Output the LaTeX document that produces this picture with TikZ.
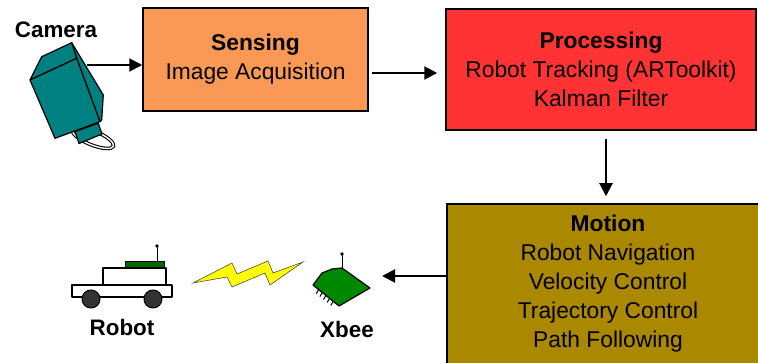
\documentclass[tikz,border=0pt]{standalone}
\usepackage{fontspec}
\setmainfont{Liberation Sans}
\usetikzlibrary{arrows.meta,calc}
\definecolor{sensefill}{RGB}{250,153,85}
\definecolor{procfill}{RGB}{255,51,51}
\definecolor{motionfill}{RGB}{170,136,0}
\definecolor{camteal}{RGB}{0,128,128}
\definecolor{chipgreen}{RGB}{0,136,0}
\definecolor{plategreen}{RGB}{0,102,0}
\definecolor{wheelgrey}{RGB}{51,51,51}
\definecolor{boltyellow}{RGB}{255,255,0}
\begin{document}
\begin{tikzpicture}[x=1pt,y=-1pt,
  box/.style={draw=black, line width=1.5pt, inner sep=0pt, align=center,
    font=\fontsize{22.8}{29}\selectfont},
  arr/.style={line width=2pt, -{Triangle[length=13pt,width=13pt]}},
  lbl/.style={font=\fontsize{22.4}{27}\selectfont\bfseries, inner sep=0pt},
  part/.style={draw=black, line width=1.2pt, line join=round}]
\useasboundingbox (0,0) rectangle (758,363);
\clip (0,0) rectangle (758,363);

% processing blocks
\node[box, fill=sensefill, minimum width=225pt, minimum height=103pt] (sensing)
  at (255.5,59.5) {\textbf{Sensing}\\Image Acquisition};
\node[box, fill=procfill, minimum width=310pt, minimum height=121pt] (processing)
  at (601,69.5) {\textbf{Processing}\\Robot Tracking (ARToolkit)\\Kalman Filter};
\node[box, fill=motionfill, minimum width=322pt, minimum height=160pt] (motion)
  at (608,284) {\textbf{Motion}\\Robot Navigation\\Velocity Control\\Trajectory Control\\Path Following};

% camera: mounting ring, lens and box-shaped body
\node[lbl] (camlabel) at (56,30) {Camera};
\draw[black, line width=3.6pt] (93,138) ellipse [x radius=22, y radius=7, rotate=-22];
\draw[white, line width=1.4pt] (93,138) ellipse [x radius=22, y radius=7, rotate=-22];
\draw[part, fill=camteal] (75,131.7) -- (98.3,123.3) -- (102,134) -- (79,143.5) -- cycle;
\draw[part, fill=camteal] (76.7,58.3) -- (71.7,42.7) -- (103.3,95) -- (101.7,120) -- (100,121.7) -- cycle;
\draw[part, fill=camteal] (30,80) -- (41.7,56.7) -- (71.7,42.7) -- (76.7,58.3) -- cycle;
\draw[part, fill=camteal] (30,80) -- (76.7,58.3) -- (100,121.7) -- (55,138.3) -- cycle;
\coordinate (camout) at (87,65);

% robot
\draw[part, line width=1pt] (157,262) -- (157,247);
\fill (157,246) circle [radius=1.8];
\draw[part, line width=1pt, fill=plategreen] (125,262) rectangle (164,268);
\draw[part, fill=white] (103,268) rectangle (166,285);
\draw[part, fill=white] (72,285) rectangle (172,297);
\draw[part, line width=1pt, fill=wheelgrey] (91,299) circle [radius=9];
\draw[part, line width=1pt, fill=wheelgrey] (153,299) circle [radius=9];
\node[lbl] (robotlabel) at (122,327) {Robot};

% radio link
\draw[fill=boltyellow, draw=black!70, line width=0.6pt, line join=miter]
  (193,283) -- (232,263) -- (237,274) -- (268,261) -- (273,273) -- (303,262)
  -- (270,285) -- (265,273) -- (232,287) -- (227,277) -- cycle;

% xbee module
\foreach \t in {0.22,0.36,0.5,0.64,0.78}
  \draw[line width=1pt] ($(313,285)!\t!(339,306)$) -- ++(-2.5,4);
\draw[part, fill=chipgreen] (313,285) -- (322,273) -- (332,269) -- (342,268)
  -- (370,288) -- (339,306) -- cycle;
\draw[line width=1pt] (342,268) -- (342,255);
\fill (342,254) circle [radius=1.8];
\coordinate (xbeein) at (382,276);
\node[lbl] (xbeelabel) at (347,329) {Xbee};

% data flow
\draw[arr] (camout) -- (sensing.west |- camout);
\draw[arr, shorten <=3pt, shorten >=8pt] (sensing.east |- 0,73) -- (processing.west |- 0,73);
\draw[arr, shorten <=8pt, shorten >=7pt] (processing.south -| 606,0) -- (motion.north -| 606,0);
\draw[arr] (motion.west |- xbeein) -- (xbeein);
\end{tikzpicture}
\end{document}
